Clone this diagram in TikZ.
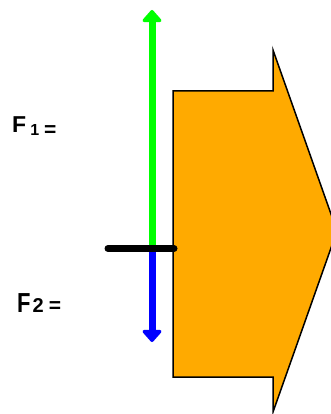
\documentclass[tikz,border=0pt]{standalone}
\usepackage{fontspec}
\setmainfont{Liberation Sans}
\usetikzlibrary{arrows.meta}
\definecolor{shapeorange}{RGB}{255,170,0}
\definecolor{vgreen}{RGB}{0,255,0}
\definecolor{vblue}{RGB}{0,0,255}
\tikzset{
  force/.style={line width=7pt, -{Triangle[width=22pt,length=13pt,round]}},
  lbl/.style={anchor=base west, inner sep=0pt, font=\bfseries}
}
\begin{document}
\begin{tikzpicture}[x=1pt,y=-1pt]
\useasboundingbox (0,0) rectangle (331,414);
\begin{scope}
\clip (0,0) rectangle (331,414);
\draw[fill=shapeorange, line width=1.5pt, line join=miter]
  (173,91) -- (273,91) -- (273,50) -- (337,231) -- (273,412) -- (273,377) -- (173,377) -- cycle;
\end{scope}
\coordinate (o) at (152,248.5);
\coordinate (top) at (152,10);
\coordinate (bot) at (152,342);
\coordinate (l) at (108,248.5);
\coordinate (r) at (173,248.5);
\draw[force, vgreen] (o) -- (top);
\draw[force, vblue] (o) -- (bot);
\draw[line width=7pt, line cap=round] (l) -- ([xshift=1pt]r);
\node[lbl] (f1) at (12,133) {{\fontsize{23}{23}\selectfont F}\hspace{4pt}\raisebox{-2pt}{\fontsize{16}{16}\selectfont 1}\hspace{5pt}\raisebox{-3pt}{\fontsize{21}{21}\selectfont =}};
\node[lbl] (f2) at (17,312) {\scalebox{1}[1.25]{\fontsize{22}{22}\selectfont F}\hspace{2pt}{\fontsize{20}{20}\selectfont 2}\hspace{5pt}{\fontsize{21}{21}\selectfont =}};
\end{tikzpicture}
\end{document}
